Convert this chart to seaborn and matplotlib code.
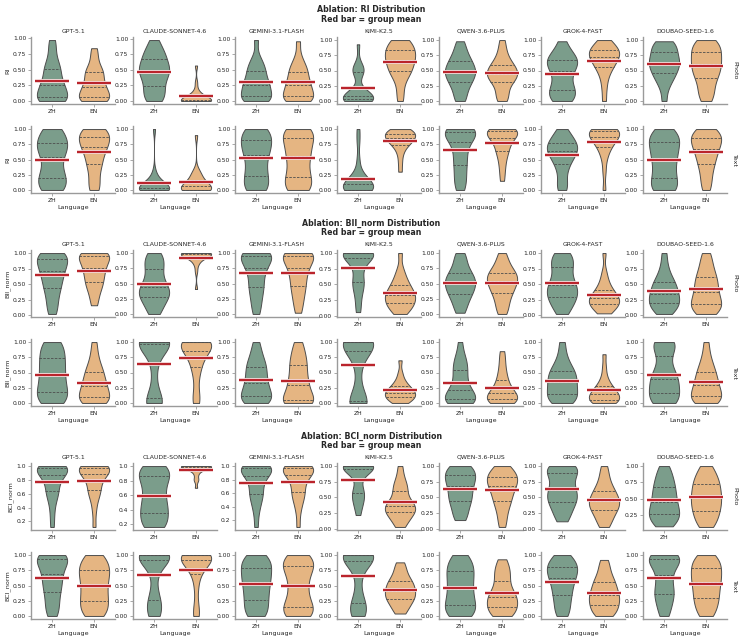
import numpy as np
import pandas as pd
import matplotlib
matplotlib.use("Agg")
import matplotlib.pyplot as plt
import matplotlib.patheffects as pe
from matplotlib.ticker import MaxNLocator
import seaborn as sns

sns.set_style("ticks")
plt.rcParams["font.family"] = ["DejaVu Sans"]

MODELS = ["GPT-5.1", "CLAUDE-SONNET-4.6", "GEMINI-3.1-FLASH", "KIMI-K2.5",
          "QWEN-3.6-PLUS", "GROK-4-FAST", "DOUBAO-SEED-1.6"]
LANGS = ["ZH", "EN"]
CONDITIONS = ["Photo", "Text"]

# ---------------- RI ----------------
RI_PHOTO_ZH = [
    [0,0,0,0.02,0.05,0.07,0.1,0.15,0.2,0.25,0.25,0.3,0.35,0.45,0.5,0.52,0.6,0.7,0.85,0.97],
    [0,0.02,0.08,0.14,0.2,0.25,0.32,0.38,0.43,0.46,0.49,0.52,0.56,0.6,0.66,0.71,0.75,0.8,0.88,0.98],
    [0,0,0.02,0.04,0.06,0.08,0.12,0.18,0.22,0.25,0.26,0.3,0.35,0.4,0.47,0.5,0.55,0.62,0.7,0.98],
    [0,0,0,0.01,0.02,0.03,0.05,0.06,0.07,0.08,0.09,0.1,0.12,0.2,0.46,0.5,0.5,0.52,0.6,0.93],
    [0,0.05,0.15,0.22,0.28,0.32,0.36,0.4,0.44,0.47,0.49,0.52,0.55,0.6,0.64,0.68,0.72,0.8,0.88,0.98],
    [0,0.02,0.05,0.1,0.15,0.2,0.22,0.3,0.38,0.45,0.52,0.56,0.6,0.63,0.66,0.7,0.73,0.78,0.85,0.98],
    [0,0.2,0.3,0.38,0.4,0.47,0.5,0.54,0.58,0.62,0.64,0.67,0.7,0.75,0.8,0.83,0.88,0.92,0.96,0.98],
]
RI_PHOTO_EN = [
    [0,0,0.01,0.03,0.05,0.06,0.1,0.14,0.18,0.21,0.24,0.28,0.33,0.4,0.45,0.47,0.5,0.6,0.72,0.84],
    [0,0,0,0,0,0,0,0,0,0,0.02,0.03,0.05,0.06,0.08,0.1,0.12,0.18,0.3,0.57],
    [0,0,0.02,0.04,0.05,0.08,0.12,0.16,0.2,0.24,0.27,0.3,0.35,0.4,0.46,0.5,0.55,0.6,0.72,0.96],
    [0,0.15,0.3,0.4,0.45,0.5,0.53,0.58,0.62,0.66,0.7,0.72,0.76,0.8,0.83,0.85,0.9,0.95,1,1],
    [0,0.05,0.12,0.2,0.28,0.33,0.36,0.39,0.42,0.44,0.46,0.49,0.52,0.56,0.59,0.62,0.68,0.76,0.86,1],
    [0,0.2,0.35,0.45,0.52,0.57,0.6,0.64,0.68,0.71,0.74,0.76,0.78,0.8,0.83,0.85,0.88,0.92,0.96,1],
    [0,0.08,0.16,0.24,0.32,0.4,0.44,0.48,0.53,0.58,0.62,0.66,0.7,0.75,0.8,0.84,0.88,0.93,0.97,1],
]
RI_TEXT_ZH = [
    [0,0,0.05,0.1,0.15,0.22,0.25,0.32,0.4,0.5,0.58,0.62,0.68,0.72,0.76,0.8,0.85,0.92,1,1],
    [0,0,0,0,0,0,0,0,0,0.02,0.03,0.05,0.07,0.09,0.1,0.12,0.15,0.2,0.3,1],
    [0,0,0.05,0.1,0.18,0.25,0.3,0.38,0.45,0.55,0.6,0.65,0.7,0.75,0.8,0.85,0.9,0.95,1,1],
    [0,0,0,0,0,0,0.02,0.04,0.06,0.08,0.1,0.12,0.14,0.16,0.2,0.24,0.3,0.5,0.8,1],
    [0,0.08,0.16,0.25,0.35,0.43,0.5,0.58,0.66,0.74,0.82,0.86,0.9,0.93,0.95,0.97,0.98,1,1,1],
    [0,0.05,0.15,0.28,0.38,0.44,0.5,0.55,0.58,0.62,0.65,0.68,0.7,0.73,0.76,0.79,0.83,0.88,0.93,1],
    [0,0,0.03,0.08,0.15,0.22,0.28,0.35,0.42,0.5,0.55,0.6,0.66,0.72,0.78,0.82,0.86,0.9,0.95,1],
]
RI_TEXT_EN = [
    [0,0.05,0.15,0.28,0.38,0.44,0.5,0.58,0.64,0.69,0.72,0.76,0.8,0.84,0.87,0.9,0.94,0.97,1,1],
    [0,0,0,0,0,0,0,0.01,0.03,0.05,0.07,0.09,0.1,0.12,0.15,0.2,0.24,0.27,0.32,0.9],
    [0,0,0.04,0.1,0.16,0.22,0.28,0.36,0.45,0.52,0.58,0.64,0.7,0.76,0.84,0.88,0.92,0.96,1,1],
    [0.3,0.45,0.58,0.66,0.72,0.75,0.78,0.8,0.82,0.84,0.86,0.88,0.9,0.91,0.92,0.94,0.96,0.98,1,1],
    [0.15,0.3,0.42,0.52,0.6,0.65,0.7,0.75,0.8,0.84,0.88,0.9,0.92,0.94,0.96,0.97,0.98,1,1,1],
    [0,0.3,0.5,0.6,0.68,0.72,0.76,0.8,0.83,0.86,0.88,0.9,0.92,0.94,0.96,0.98,1,1,1,1],
    [0,0.1,0.2,0.3,0.38,0.45,0.5,0.56,0.62,0.66,0.7,0.74,0.78,0.82,0.85,0.88,0.91,0.94,0.97,1],
]

# ---------------- BII_norm ----------------
BII_PHOTO_ZH = [
    [0.02,0.12,0.22,0.32,0.4,0.46,0.52,0.58,0.63,0.68,0.73,0.77,0.81,0.85,0.89,0.92,0.95,0.98,1,1],
    [0,0.06,0.14,0.2,0.26,0.29,0.32,0.35,0.38,0.42,0.46,0.5,0.56,0.64,0.72,0.78,0.84,0.9,0.96,1],
    [0,0.12,0.22,0.32,0.4,0.46,0.52,0.6,0.68,0.74,0.78,0.83,0.88,0.92,0.95,0.97,1,1,1,1],
    [0.06,0.2,0.35,0.45,0.5,0.55,0.62,0.72,0.85,0.9,0.95,0.98,1,1,1,1,1,1,1,1],
    [0.02,0.1,0.18,0.25,0.3,0.34,0.38,0.42,0.46,0.49,0.52,0.55,0.58,0.62,0.66,0.7,0.76,0.84,0.93,1],
    [0.02,0.1,0.16,0.22,0.27,0.3,0.34,0.38,0.42,0.46,0.5,0.54,0.6,0.68,0.76,0.8,0.86,0.92,0.97,1],
    [0.02,0.06,0.1,0.14,0.17,0.2,0.23,0.26,0.3,0.33,0.36,0.4,0.44,0.48,0.52,0.56,0.62,0.7,0.82,1],
]
BII_PHOTO_EN = [
    [0.16,0.28,0.38,0.45,0.5,0.55,0.6,0.65,0.7,0.74,0.78,0.82,0.86,0.9,0.94,0.96,0.98,1,1,1],
    [0.41,0.7,0.82,0.86,0.9,0.93,0.95,0.96,0.97,0.98,0.99,1,1,1,1,1,1,1,1,1],
    [0.02,0.15,0.25,0.34,0.42,0.48,0.54,0.62,0.68,0.73,0.78,0.83,0.88,0.92,0.95,0.97,1,1,1,1],
    [0.03,0.08,0.12,0.15,0.18,0.21,0.24,0.27,0.3,0.32,0.34,0.37,0.4,0.44,0.48,0.52,0.58,0.65,0.75,1],
    [0,0.08,0.16,0.24,0.3,0.36,0.4,0.44,0.48,0.52,0.55,0.58,0.61,0.64,0.67,0.7,0.75,0.82,0.9,1],
    [0.03,0.06,0.1,0.13,0.16,0.18,0.2,0.22,0.24,0.26,0.28,0.3,0.33,0.36,0.4,0.44,0.5,0.58,0.7,1],
    [0.02,0.05,0.09,0.12,0.15,0.18,0.22,0.26,0.3,0.35,0.4,0.45,0.5,0.55,0.6,0.65,0.72,0.8,0.9,1],
]
BII_TEXT_ZH = [
    [0,0,0.05,0.1,0.15,0.2,0.24,0.3,0.36,0.42,0.48,0.54,0.6,0.66,0.72,0.78,0.84,0.9,1,1],
    [0,0,0,0,0.03,0.1,0.4,0.6,0.8,0.95,1,1,1,1,1,1,1,1,1,1],
    [0,0,0.03,0.06,0.09,0.12,0.16,0.2,0.25,0.3,0.35,0.4,0.46,0.52,0.58,0.62,0.68,0.76,0.86,1],
    [0,0,0,0,0,0.05,0.3,0.55,0.75,0.82,0.9,0.95,1,1,1,1,1,1,1,1],
    [0,0,0.01,0.03,0.05,0.07,0.1,0.13,0.16,0.2,0.24,0.3,0.38,0.46,0.52,0.58,0.65,0.72,0.8,1],
    [0,0.02,0.05,0.08,0.12,0.16,0.2,0.24,0.28,0.32,0.36,0.4,0.44,0.48,0.52,0.56,0.62,0.7,0.82,1],
    [0,0,0.04,0.08,0.12,0.17,0.22,0.28,0.34,0.38,0.42,0.46,0.52,0.62,0.74,0.88,0.94,0.98,1,1],
]
BII_TEXT_EN = [
    [0,0,0.02,0.05,0.08,0.1,0.14,0.18,0.22,0.26,0.3,0.34,0.38,0.44,0.5,0.54,0.6,0.7,0.82,1],
    [0,0.05,0.2,0.4,0.55,0.6,0.7,0.76,0.8,0.84,0.88,0.92,0.95,0.98,1,1,1,1,1,1],
    [0,0,0,0.01,0.02,0.05,0.1,0.16,0.22,0.28,0.32,0.38,0.45,0.52,0.6,0.66,0.72,0.8,0.9,1],
    [0,0.02,0.04,0.06,0.08,0.1,0.12,0.14,0.15,0.16,0.18,0.2,0.22,0.24,0.27,0.3,0.34,0.4,0.5,0.7],
    [0,0,0.01,0.03,0.05,0.07,0.09,0.11,0.13,0.15,0.18,0.21,0.25,0.3,0.36,0.42,0.5,0.6,0.72,0.85],
    [0,0,0.01,0.02,0.04,0.06,0.08,0.1,0.12,0.14,0.16,0.18,0.2,0.23,0.27,0.3,0.36,0.45,0.6,0.8],
    [0,0.01,0.03,0.06,0.09,0.12,0.15,0.19,0.23,0.27,0.31,0.35,0.4,0.45,0.5,0.55,0.62,0.7,0.82,1],
]

# ---------------- BCI_norm ----------------
BCI_PHOTO_ZH = [
    [0.12,0.3,0.45,0.55,0.6,0.65,0.7,0.76,0.82,0.86,0.89,0.92,0.94,0.96,0.97,0.98,0.99,1,1,1],
    [0.16,0.17,0.2,0.26,0.32,0.37,0.4,0.45,0.5,0.56,0.62,0.68,0.74,0.8,0.85,0.88,0.92,0.95,0.98,1],
    [0.1,0.3,0.42,0.5,0.56,0.6,0.66,0.72,0.78,0.84,0.88,0.91,0.93,0.95,0.97,0.98,0.99,1,1,1],
    [0.22,0.35,0.42,0.48,0.54,0.58,0.62,0.72,0.88,0.95,0.97,0.98,0.99,1,1,1,1,1,1,1],
    [0.14,0.2,0.28,0.35,0.42,0.46,0.5,0.55,0.6,0.65,0.7,0.74,0.78,0.81,0.84,0.88,0.92,0.96,1,1],
    [0.12,0.2,0.28,0.34,0.4,0.44,0.48,0.52,0.56,0.6,0.64,0.7,0.76,0.82,0.88,0.92,0.96,0.98,1,1],
    [0.08,0.12,0.16,0.2,0.24,0.27,0.3,0.34,0.38,0.43,0.47,0.52,0.57,0.62,0.67,0.72,0.78,0.84,0.92,1],
]
BCI_PHOTO_EN = [
    [0.12,0.35,0.5,0.58,0.63,0.67,0.72,0.78,0.83,0.87,0.9,0.92,0.94,0.96,0.97,0.98,0.99,1,1,1],
    [0.7,0.8,0.82,0.88,0.92,0.94,0.96,0.97,0.98,0.99,0.99,1,1,1,1,1,1,1,1,1],
    [0.1,0.32,0.45,0.52,0.58,0.62,0.68,0.74,0.8,0.85,0.88,0.91,0.93,0.95,0.97,0.98,0.99,1,1,1],
    [0.03,0.1,0.15,0.2,0.24,0.27,0.29,0.31,0.34,0.36,0.38,0.4,0.44,0.5,0.58,0.64,0.68,0.74,0.84,1],
    [0.03,0.15,0.26,0.35,0.42,0.46,0.52,0.57,0.62,0.66,0.7,0.73,0.76,0.79,0.82,0.85,0.88,0.92,0.96,1],
    [0.03,0.1,0.16,0.22,0.27,0.3,0.34,0.37,0.4,0.43,0.45,0.48,0.52,0.56,0.6,0.64,0.7,0.78,0.88,1],
    [0.07,0.12,0.18,0.24,0.29,0.33,0.37,0.42,0.46,0.5,0.54,0.58,0.62,0.67,0.72,0.76,0.8,0.86,0.93,1],
]
BCI_TEXT_ZH = [
    [0,0.08,0.16,0.25,0.34,0.42,0.48,0.54,0.6,0.66,0.72,0.78,0.84,0.88,0.92,0.95,0.97,1,1,1],
    [0,0.02,0.08,0.15,0.22,0.28,0.38,0.6,0.8,0.9,0.95,0.97,0.98,1,1,1,1,1,1,1],
    [0,0.02,0.08,0.15,0.22,0.28,0.34,0.4,0.46,0.52,0.58,0.62,0.67,0.72,0.78,0.83,0.87,0.92,0.96,1],
    [0,0.03,0.08,0.12,0.16,0.22,0.35,0.55,0.75,0.88,0.94,0.96,0.98,1,1,1,1,1,1,1],
    [0,0.01,0.05,0.1,0.15,0.2,0.24,0.3,0.36,0.42,0.48,0.54,0.6,0.66,0.72,0.76,0.82,0.88,0.94,1],
    [0,0.06,0.14,0.22,0.3,0.36,0.42,0.48,0.54,0.6,0.64,0.68,0.72,0.76,0.79,0.83,0.87,0.91,0.95,1],
    [0,0.08,0.18,0.26,0.32,0.37,0.42,0.48,0.56,0.64,0.72,0.8,0.86,0.9,0.92,0.95,0.97,1,1,1],
]
BCI_TEXT_EN = [
    [0,0.03,0.08,0.14,0.2,0.25,0.3,0.36,0.42,0.48,0.54,0.6,0.65,0.7,0.75,0.79,0.84,0.9,0.96,1],
    [0,0.03,0.2,0.45,0.62,0.72,0.78,0.83,0.87,0.9,0.93,0.95,0.97,0.98,1,1,1,1,1,1],
    [0,0,0.04,0.08,0.12,0.16,0.22,0.3,0.38,0.46,0.54,0.62,0.7,0.76,0.81,0.85,0.89,0.93,0.97,1],
    [0.04,0.1,0.16,0.21,0.25,0.28,0.31,0.34,0.37,0.4,0.43,0.46,0.5,0.53,0.56,0.6,0.65,0.72,0.8,0.88],
    [0,0.02,0.05,0.09,0.13,0.16,0.2,0.24,0.28,0.3,0.33,0.37,0.42,0.48,0.56,0.64,0.7,0.76,0.84,0.93],
    [0,0.03,0.07,0.11,0.15,0.19,0.23,0.27,0.3,0.33,0.36,0.4,0.45,0.5,0.54,0.58,0.64,0.72,0.82,0.92],
    [0,0.06,0.13,0.2,0.26,0.31,0.36,0.42,0.48,0.53,0.58,0.62,0.67,0.72,0.77,0.81,0.86,0.91,0.96,1],
]

SECTIONS = [
    ("RI", {"Photo": (RI_PHOTO_ZH, RI_PHOTO_EN), "Text": (RI_TEXT_ZH, RI_TEXT_EN)}),
    ("BII_norm", {"Photo": (BII_PHOTO_ZH, BII_PHOTO_EN), "Text": (BII_TEXT_ZH, BII_TEXT_EN)}),
    ("BCI_norm", {"Photo": (BCI_PHOTO_ZH, BCI_PHOTO_EN), "Text": (BCI_TEXT_ZH, BCI_TEXT_EN)}),
]

PALETTE = {"ZH": "#7b9d8b", "EN": "#e5b582"}
EDGE = "#4d4d4d"
MEAN_COLOR = "#b5121b"
SPINE = "#9a9a9a"

W, H = 743, 642
fig = plt.figure(figsize=(W / 100, H / 100), dpi=100)

COL_LEFT = [31, 133, 235, 337, 439, 541, 643]
AX_W = 84
AX_H = 67
SEC_OFF = [0, 213, 426]
ROW_TOP = [37, 126]

FS_TICK = 4.3
FS_TITLE = 4.4
FS_LABEL = 4.6
FS_SUP = 5.7


def px_axes(left, top, w, h):
    return fig.add_axes([left / W, 1 - (top + h) / H, w / W, h / H])


for s, (metric, cond_data) in enumerate(SECTIONS):
    off = SEC_OFF[s]
    fig.text(0.5, 1 - (off + 14.5) / H,
             f"Ablation: {metric} Distribution\nRed bar = group mean",
             ha="center", va="center", fontsize=FS_SUP, fontweight="bold",
             linespacing=1.0)
    for r, cond in enumerate(CONDITIONS):
        zh_all, en_all = cond_data[cond]
        for c, model in enumerate(MODELS):
            ax = px_axes(COL_LEFT[c], off + ROW_TOP[r], AX_W, AX_H)
            zh, en = zh_all[c], en_all[c]
            df = pd.DataFrame({
                "Language": ["ZH"] * len(zh) + ["EN"] * len(en),
                metric: list(zh) + list(en),
            })
            sns.violinplot(data=df, x="Language", y=metric, hue="Language",
                           order=LANGS, hue_order=LANGS, palette=PALETTE,
                           density_norm="width", cut=0, inner="quart",
                           inner_kws={"dashes": (3, 1.6), "linewidth": 0.6},
                           width=0.72, linewidth=0.7, linecolor=EDGE,
                           bw_adjust=0.75, saturation=1, legend=False, ax=ax)
            means = df.groupby("Language")[metric].mean()
            for i, lang in enumerate(LANGS):
                ax.hlines(means[lang], i - 0.4, i + 0.4, color=MEAN_COLOR,
                          lw=1.3, zorder=10,
                          path_effects=[pe.Stroke(linewidth=2.8, foreground="#f1d2d2"),
                                        pe.Normal()])
            ax.set_xlim(-0.5, 1.5)
            ax.yaxis.set_major_locator(MaxNLocator(nbins=5, steps=[1, 2, 2.5, 5, 10]))
            sns.despine(ax=ax)
            for sp in ("left", "bottom"):
                ax.spines[sp].set_color(SPINE)
                ax.spines[sp].set_linewidth(1.0)
            ax.tick_params(axis="both", labelsize=FS_TICK, length=2, width=0.6,
                           color=SPINE, pad=1.5, labelcolor="#222222")
            if c == 0:
                ax.set_ylabel(metric, fontsize=FS_LABEL, labelpad=2)
            else:
                ax.set_ylabel("")
            if r == 1:
                ax.set_xlabel("Language", fontsize=FS_LABEL, labelpad=1.5)
            else:
                ax.set_xlabel("")
            if r == 0:
                ax.set_title(model, fontsize=FS_TITLE, pad=3)
            if c == len(MODELS) - 1:
                ax.text(1.06, 0.5, cond, transform=ax.transAxes, rotation=-90,
                        ha="left", va="center", fontsize=FS_LABEL)

fig.savefig("out.png", dpi=100, facecolor="white")
